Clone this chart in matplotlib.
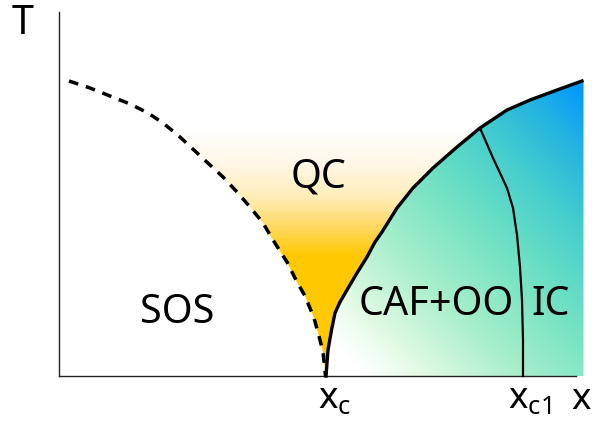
import numpy as np
import matplotlib
matplotlib.use('Agg')
import matplotlib.pyplot as plt
from matplotlib.colors import LinearSegmentedColormap
from matplotlib.patches import Polygon

plt.rcParams['font.family'] = ['Noto Sans', 'DejaVu Sans']
plt.rcParams['mathtext.fontset'] = 'custom'
plt.rcParams['mathtext.rm'] = 'Noto Sans'

# schematic phase boundaries (x, T), arbitrary units
dash_x = [0.10, 0.31, 0.51, 0.71, 0.89, 1.04, 1.21, 1.36, 1.51, 1.64, 1.78, 1.91, 2.04,
          2.14, 2.28, 2.38, 2.46, 2.55, 2.61, 2.64, 2.655, 2.665]
dash_T = [2.95, 2.88, 2.80, 2.72, 2.63, 2.53, 2.39, 2.25, 2.11, 1.99, 1.84, 1.69, 1.53,
          1.36, 1.14, 0.94, 0.80, 0.58, 0.36, 0.24, 0.10, 0.00]

main_x = [2.67, 2.69, 2.725, 2.76, 2.81, 2.88, 2.98, 3.08, 3.16, 3.23, 3.38, 3.54, 3.74,
          3.98, 4.21, 4.48, 4.71, 4.98, 5.23]
main_T = [0.00, 0.26, 0.46, 0.63, 0.74, 0.86, 1.03, 1.19, 1.34, 1.44, 1.68, 1.88, 2.08,
          2.29, 2.48, 2.66, 2.76, 2.86, 2.95]

xc1_x = [4.21, 4.34, 4.48, 4.54, 4.58, 4.61, 4.63, 4.64, 4.64]
xc1_T = [2.48, 2.18, 1.88, 1.68, 1.41, 1.09, 0.76, 0.36, 0.00]

x_end = 5.17      # end of x axis
T_top = 3.645     # top of T axis
x_right = 5.245   # right edge of coloured region

region_labels = ['QC', 'SOS', 'CAF+OO', 'IC']
region_x = [2.60, 1.18, 3.77, 4.92]
region_T = [1.99, 0.63, 0.71, 0.71]

tick_labels = [r'x$_\mathregular{c}$', r'x$_\mathregular{c1}$', 'x']
tick_x = [2.59, 4.49, 5.12]

fig = plt.figure(figsize=(5.92, 4.21), dpi=100)
ax = fig.add_axes([0, 0, 1, 1])
ax.set_xlim(-0.59, 5.33)
ax.set_ylim(-0.45, 3.76)
ax.axis('off')

# QC region: between dashed and solid curves, vertical fade
qc_cmap = LinearSegmentedColormap.from_list('qc', [
    (0.0, '#ffc800'), (0.40, '#ffc800'), (0.49, '#ffd75a'),
    (0.59, '#ffecb4'), (0.70, '#fff6e4'), (0.83, '#ffffff'), (1.0, '#ffffff')])
qc_pts = list(zip(dash_x, dash_T)) + list(zip(main_x, main_T))
qc_poly = Polygon(qc_pts, closed=True, facecolor='none', edgecolor='none', transform=ax.transData)
ax.add_patch(qc_poly)
Tgrid = np.linspace(0, 3, 300)[:, None]
im1 = ax.imshow(Tgrid, cmap=qc_cmap, vmin=0, vmax=3, extent=(0, x_right, 0, 3),
                origin='lower', aspect='auto', interpolation='bilinear', zorder=1)
im1.set_clip_path(qc_poly)

# ordered region: diagonal white -> green -> blue
ord_cmap = LinearSegmentedColormap.from_list('ord', [
    (0.0, '#ffffff'), (0.118, '#e1fae4'), (0.314, '#a5eeca'),
    (0.510, '#73e2c3'), (0.706, '#46cecd'), (0.863, '#23b4e1'), (1.0, '#0096ff')])
ord_pts = list(zip(main_x, main_T)) + [(x_right, main_T[-1]), (x_right, 0.0)]
ord_poly = Polygon(ord_pts, closed=True, facecolor='none', edgecolor='none', transform=ax.transData)
ax.add_patch(ord_poly)
gx, gT = np.meshgrid(np.linspace(2.6, x_right, 300), np.linspace(0, 3, 300))
im2 = ax.imshow(gx + gT, cmap=ord_cmap, vmin=3.07, vmax=8.17, extent=(2.6, x_right, 0, 3),
                origin='lower', aspect='auto', interpolation='bilinear', zorder=1)
im2.set_clip_path(ord_poly)

# axes
ax.plot([0, 0], [0, T_top], color='#222222', lw=1.0, zorder=2)
ax.plot([0, x_end], [0, 0], color='#222222', lw=1.0, zorder=2)

# boundaries
ax.plot(dash_x, dash_T, color='black', lw=2.5, dashes=(2.8, 2.3), zorder=3)
ax.plot(main_x, main_T, color='black', lw=2.4, zorder=3, solid_joinstyle='round')
ax.plot(xc1_x, xc1_T, color='black', lw=1.6, zorder=3, solid_joinstyle='round')

fs = 28.5
for lab, lx, lT in zip(region_labels, region_x, region_T):
    ax.text(lx, lT, lab, fontsize=fs, ha='center', va='center', zorder=4)

for lab, lx in zip(tick_labels, tick_x):
    ax.text(lx, -0.33, lab, fontsize=26.5, ha='left', va='baseline', zorder=4)

ax.text(-0.36, 3.52, 'T', fontsize=fs, ha='center', va='center', zorder=4)

fig.savefig('out.png', dpi=100)
